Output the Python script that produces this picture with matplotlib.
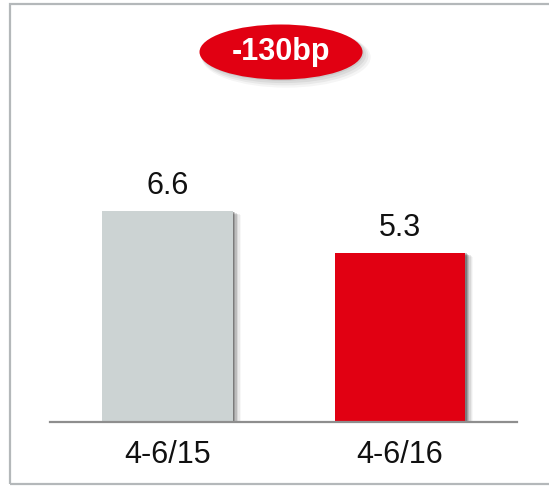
import matplotlib
matplotlib.use("Agg")
import matplotlib.pyplot as plt
from matplotlib.patches import Ellipse, Rectangle
import matplotlib.patheffects as pe

plt.rcParams['font.family'] = ['Liberation Sans', 'DejaVu Sans']

categories = ["4-6/15", "4-6/16"]
values = [6.6, 5.3]
colors = ["#CCD3D3", "#E10012"]
change_label = "-130bp"

W, H = 549, 486
fig = plt.figure(figsize=(W / 100, H / 100), dpi=100)

# outer border
fig.patches.append(Rectangle((10 / W, 1 - 484 / H), 1.2, (484 - 4) / H,
                             transform=fig.transFigure, fill=False,
                             edgecolor="#B4B8BA", linewidth=1.6, zorder=0))

ax = fig.add_axes([50 / W, 1 - 422 / H, (517 - 50) / W, (422 - 4) / H])
ax.set_xlim(-0.505, 1.503)
ax.set_ylim(0, 418 / 31.97)

x = list(range(len(categories)))
shadow_effects = [pe.SimplePatchShadow(offset=(o, -o * 0.5), shadow_rgbFace="#000000", alpha=a)
                  for o, a in [(1.0, 0.22), (2.0, 0.16), (3.0, 0.12), (4.0, 0.08), (5.0, 0.05), (6.0, 0.03)]]
bars = ax.bar(x, values, width=0.56, color=colors, zorder=3)
for b in bars:
    b.set_path_effects(shadow_effects + [pe.Normal()])

for xi, v in zip(x, values):
    ax.annotate(f"{v}", (xi, v), xytext=(0, 7), textcoords="offset points",
                ha="center", va="bottom", fontsize=22, color="#111111")

for s in ["top", "right", "left"]:
    ax.spines[s].set_visible(False)
ax.spines["bottom"].set_color("#8E8E8E")
ax.spines["bottom"].set_linewidth(1.6)
ax.spines["bottom"].set_zorder(4)
ax.set_yticks([])
ax.set_xticks(x)
ax.set_xticklabels(categories, fontsize=22, color="#111111")
ax.tick_params(axis="x", length=0, pad=13)
ax.patch.set_visible(False)

# red ellipse badge with soft shadow
cx, cy = 281 / W, 1 - 52 / H
ew, eh = 163 / W, 55 / H
for i, a in enumerate([0.07, 0.06, 0.05, 0.04]):
    d = (i + 1) * 1.3
    fig.patches.append(Ellipse((cx + d / W, cy - d / H), ew + 2 * i / W, eh + 2 * i / H,
                               transform=fig.transFigure, facecolor="black",
                               edgecolor="none", alpha=a, zorder=5))
fig.patches.append(Ellipse((cx, cy), ew, eh, transform=fig.transFigure,
                           facecolor="#E10012", edgecolor="none", zorder=6))
fig.text(cx, cy, change_label, ha="center", va="center", fontsize=22,
         fontweight="bold", color="white", zorder=7)

fig.savefig("out.png", dpi=100)
